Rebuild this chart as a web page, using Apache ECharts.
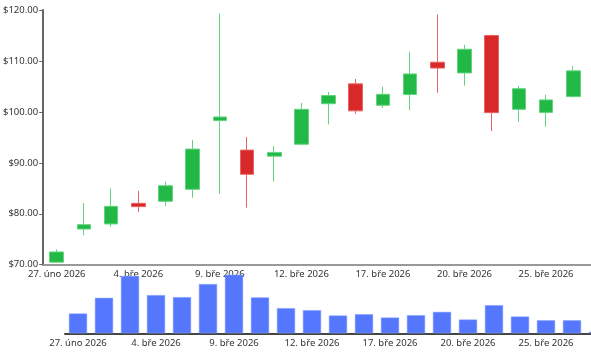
<!DOCTYPE html>
<html>
<head>
<meta charset="utf-8">
<script src="https://cdn.jsdelivr.net/npm/echarts@6/dist/echarts.min.js"></script>
<style>
html,body{margin:0;padding:0;background:#fff;overflow:hidden;width:591px;height:354px;}
#chart{width:620px;height:354px;}
</style>
</head>
<body>
<div id="chart"></div>
<script>
const dates = ['27. úno 2026','2. bře 2026','3. bře 2026','4. bře 2026','5. bře 2026','6. bře 2026',
  '9. bře 2026','10. bře 2026','11. bře 2026','12. bře 2026','13. bře 2026','16. bře 2026',
  '17. bře 2026','18. bře 2026','19. bře 2026','20. bře 2026','23. bře 2026','24. bře 2026',
  '25. bře 2026','26. bře 2026','27. bře 2026'];
const opens  = [70.5, 77.0, 78.0, 82.05, 82.45, 84.8, 98.3, 92.5, 91.3, 93.65, 101.6, 105.5, 101.3, 103.4, 109.75, 107.65, 115.0, 100.5, 99.9, 103.0, 108.0];
const closes = [72.5, 77.85, 81.45, 81.4, 85.5, 92.7, 99.0, 87.75, 92.05, 100.5, 103.2, 100.2, 103.45, 107.45, 108.6, 112.3, 99.85, 104.55, 102.35, 108.05, 109.5];
const lows   = [70.4, 75.8, 77.45, 80.35, 81.5, 83.15, 83.9, 81.2, 86.3, 93.6, 97.55, 99.6, 100.8, 100.35, 103.75, 105.15, 96.25, 98.05, 97.1, 102.8, 107.0];
const highs  = [73.0, 82.1, 85.0, 84.5, 86.3, 94.5, 119.35, 95.05, 93.3, 101.75, 103.9, 106.45, 104.95, 111.8, 119.1, 113.15, 115.15, 105.1, 103.35, 109.0, 110.5];
const volumes = [1970, 3530, 5700, 3800, 3600, 4900, 5830, 3570, 2500, 2300, 1770, 1900, 1570, 1800, 2130, 1370, 2800, 1670, 1300, 1300, 150];
const priceTicks = [70, 80, 90, 100, 110, 120];

const candleData = dates.map((d, i) => [opens[i], closes[i], lows[i], highs[i]]);
const labelStyle = {color:'#333', fontSize:9.5, fontFamily:'Noto Sans, sans-serif'};

const chart = echarts.init(document.getElementById('chart'), null, {renderer:'canvas'});
chart.setOption({
  animation:false,
  grid:[
    {left:42, right:6, top:10, bottom:89.3},
    {left:65, right:9, top:273, bottom:20.7}
  ],
  xAxis:[
    {type:'category', gridIndex:0, data:dates, boundaryGap:true,
     axisLine:{lineStyle:{color:'#999', width:2}},
     axisTick:{interval:2, length:4, lineStyle:{color:'#999'}},
     axisLabel:Object.assign({interval:2, margin:5}, labelStyle),
     splitLine:{show:false}},
    {type:'category', gridIndex:1, data:dates, boundaryGap:true,
     axisLine:{lineStyle:{color:'#444', width:2}},
     axisTick:{interval:2, length:4, lineStyle:{color:'#444'}},
     axisLabel:Object.assign({interval:2, margin:5}, labelStyle),
     splitLine:{show:false}}
  ],
  yAxis:[
    {type:'value', gridIndex:0, min:priceTicks[0], max:priceTicks[priceTicks.length-1], interval:10,
     axisLine:{show:true, lineStyle:{color:'#666', width:2}},
     axisTick:{show:true, length:4, lineStyle:{color:'#666'}},
     axisLabel:Object.assign({margin:5, formatter:v => '$' + v.toFixed(2)}, labelStyle),
     splitLine:{show:false}},
    {type:'value', gridIndex:1, min:0, max:6000, show:false, splitLine:{show:false}}
  ],
  series:[
    {type:'candlestick', xAxisIndex:0, yAxisIndex:0, data:candleData, barWidth:'52%',
     itemStyle:{color:'#22b846', color0:'#d9282a', borderColor:'#62d47e', borderColor0:'#e86464', borderWidth:1}},
    {type:'bar', xAxisIndex:1, yAxisIndex:1, data:volumes, barWidth:'70%',
     itemStyle:{color:'#5477fe', borderColor:'#8aa2ff', borderWidth:0.5}}
  ]
});
</script>
</body>
</html>
